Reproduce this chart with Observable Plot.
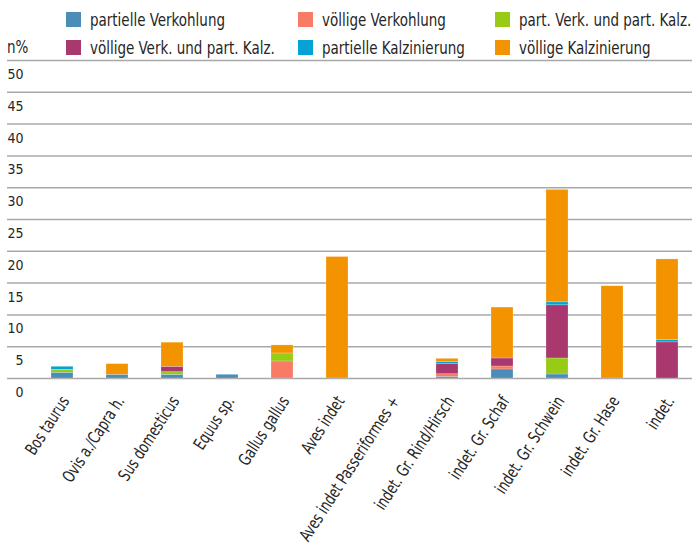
<!DOCTYPE html>
<html>
<head>
<meta charset="utf-8">
<script src="https://cdn.jsdelivr.net/npm/d3@7"></script>
<script src="https://cdn.jsdelivr.net/npm/@observablehq/plot@0.6"></script>
<style>
  body { margin: 0; background: #fff; font-family: "DejaVu Sans Condensed", "DejaVu Sans", sans-serif; color: #262626; }
  #legend { position: relative; width: 692px; height: 52px; font-size: 18px; }
  .item { position: absolute; height: 15px; display: flex; align-items: center; white-space: nowrap; }
  .sw { width: 15px; height: 15px; margin-right: 9px; flex: none; }
  .lt { display: inline-block; transform-origin: left center; line-height: 15px; }
  #ylab { position: absolute; left: 7px; top: 39px; height: 15px; display: flex; align-items: center; font-size: 18px; }
  svg text { font-family: "DejaVu Sans Condensed", "DejaVu Sans", sans-serif; }
</style>
</head>
<body>
<div id="legend"><div id="ylab"><span class="lt">n%</span></div></div>
<div id="chart"></div>
<script>
const categories = ["Bos taurus","Ovis a./Capra h.","Sus domesticus","Equus sp.","Gallus gallus","Aves indet","Aves indet Passeriformes +","indet. Gr. Rind/Hirsch","indet. Gr. Schaf","indet. Gr. Schwein","indet. Gr. Hase","indet."];
const seriesNames = ["partielle Verkohlung","völlige Verkohlung","part. Verk. und part. Kalz.","völlige Verk. und part. Kalz.","partielle Kalzinierung","völlige Kalzinierung"];
const seriesColors = ["#4a8db9","#f87b65","#97cb15","#a9386f","#05a3d5","#f39300"];
const partielleVerkohlung   = [0.9, 0.58, 0.58, 0.58, 0, 0, 0, 0.25, 1.42, 0.63, 0, 0];
const voelligeVerkohlung    = [0, 0, 0, 0, 2.68, 0, 0, 0.42, 0.47, 0, 0, 0];
const partVerkPartKalz      = [0.47, 0, 0.42, 0, 1.26, 0, 0, 0, 0, 2.52, 0, 0];
const voelligeVerkPartKalz  = [0, 0, 0.84, 0, 0, 0, 0, 1.58, 1.26, 8.36, 0, 5.68];
const partielleKalzinierung = [0.47, 0, 0, 0, 0, 0, 0, 0.37, 0, 0.47, 0, 0.37];
const voelligeKalzinierung  = [0, 1.68, 3.79, 0, 1.26, 19.1, 0, 0.47, 8.0, 17.67, 14.5, 12.67];
const yTicks = [0,5,10,15,20,25,30,35,40,45,50];

const seriesValues = [partielleVerkohlung, voelligeVerkohlung, partVerkPartKalz, voelligeVerkPartKalz, partielleKalzinierung, voelligeKalzinierung];
const rows = [];
seriesValues.forEach((vals, si) => {
  vals.forEach((v, ci) => { if (v > 0) rows.push({cat: categories[ci], series: seriesNames[si], value: v}); });
});

// legend (3 columns x 2 rows, row-major)
const legend = document.getElementById("legend");
const pos = [[66,12],[298,12],[495,12],[66,40],[298,40],[495,40]];
seriesNames.forEach((name, i) => {
  const d = document.createElement("div");
  d.className = "item";
  d.style.left = pos[i][0] + "px";
  d.style.top = pos[i][1] + "px";
  d.innerHTML = `<span class="sw" style="background:${seriesColors[i]}"></span><span class="lt">${name}</span>`;
  legend.appendChild(d);
});
// condense legend text (reference uses a condensed face)
const lts = legend.querySelectorAll(".lt");
const w0 = lts[1].getBoundingClientRect().width; // "partielle Verkohlung"
const kLeg = 135 / w0;
lts.forEach(s => s.style.transform = `scaleX(${kLeg})`);

const chart = Plot.plot({
  width: 692,
  height: 501,
  marginTop: 8,
  marginBottom: 175,
  marginLeft: 7,
  marginRight: 0,
  style: {fontSize: "16px", color: "#262626", background: "#fff"},
  x: {domain: categories, range: [34, 694], paddingInner: 0.608, paddingOuter: 0.304, axis: null},
  y: {domain: [0, 50], label: null},
  color: {domain: seriesNames, range: seriesColors},
  marks: [
    Plot.gridY(yTicks, {stroke: "#a8a8a8", strokeOpacity: 1, strokeWidth: 1.5}),
    Plot.axisY(yTicks, {tickSize: 0, tickPadding: 0, dx: 16, dy: 14, label: null, fontSize: 14}),
    Plot.barY(rows, {x: "cat", y: "value", fill: "series", order: seriesNames, stroke: "#fff", strokeOpacity: 0.35, strokeWidth: 0.6}),
    Plot.text(categories, {x: d => d, text: d => d, frameAnchor: "bottom", rotate: -57, textAnchor: "end", lineAnchor: "middle", dx: 3, dy: 19.5, fontSize: 17, fill: "#262626", className: "xlab"})
  ]
});
document.getElementById("chart").appendChild(chart);

// condense x labels (reference uses a condensed face)
const xTexts = Array.from(chart.querySelectorAll('.xlab text'));
const ref = xTexts.find(t => t.textContent === "indet. Gr. Schwein");
const kX = ref ? 112 / ref.getComputedTextLength() : 0.8;
xTexts.forEach(t => {
  const L = t.getComputedTextLength();
  t.setAttribute("textLength", (L * kX).toFixed(1));
  t.setAttribute("lengthAdjust", "spacingAndGlyphs");
});
</script>
</body>
</html>
